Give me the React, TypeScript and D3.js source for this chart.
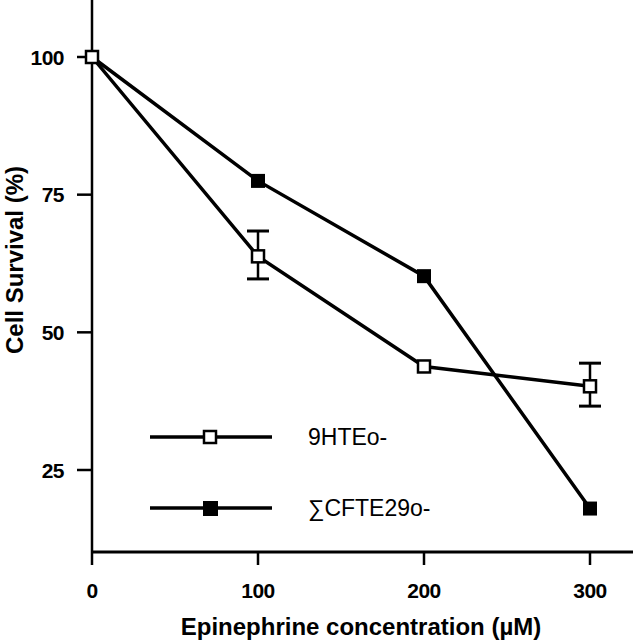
import * as d3 from 'd3'
import { useEffect, useRef } from 'react'

const doses = [0, 100, 200, 300]
const htValues = [100, 63.8, 43.8, 40.2]
const htErrLow = [null, 59.7, null, 36.6]
const htErrHigh = [null, 68.4, null, 44.4]
const cfValues = [100, 77.5, 60.2, 18]
const xTicks = [0, 100, 200, 300]
const yTicks = [25, 50, 75, 100]
const legendNames = ['9HTEo-', '\u2211CFTE29o-']

export default function App() {
  const svgRef = useRef<SVGSVGElement>(null)

  useEffect(() => {
    const svg = d3.select(svgRef.current)
    svg.selectAll('*').remove()
    const width = 633
    const height = 640
    const left = 92
    const bottom = 552

    const x = d3.scaleLinear().domain([0, 300]).range([left, 590])
    const y = d3.scaleLinear().domain([25, 100]).range([470, 57])
    const font = 'Liberation Sans, Arial, Helvetica, sans-serif'

    svg.append('rect').attr('width', width).attr('height', height).attr('fill', 'white')

    // axes lines
    svg.append('line').attr('x1', left).attr('x2', left).attr('y1', 0).attr('y2', bottom)
      .attr('stroke', 'black').attr('stroke-width', 2.5)
    svg.append('line').attr('x1', left - 1).attr('x2', width).attr('y1', bottom).attr('y2', bottom)
      .attr('stroke', 'black').attr('stroke-width', 3)

    // y ticks
    yTicks.forEach((t) => {
      svg.append('line').attr('x1', left - 15).attr('x2', left).attr('y1', y(t)).attr('y2', y(t))
        .attr('stroke', 'black').attr('stroke-width', 2.5)
      svg.append('text').attr('x', left - 28).attr('y', y(t)).attr('dy', '0.36em')
        .attr('text-anchor', 'end').attr('font-family', font).attr('font-weight', 'bold')
        .attr('font-size', 21).attr('letter-spacing', -0.5).text(t)
    })

    // x ticks
    xTicks.forEach((t) => {
      svg.append('line').attr('x1', x(t)).attr('x2', x(t)).attr('y1', bottom).attr('y2', bottom + 13)
        .attr('stroke', 'black').attr('stroke-width', 2.5)
      svg.append('text').attr('x', x(t)).attr('y', 598)
        .attr('text-anchor', 'middle').attr('font-family', font).attr('font-weight', 'bold')
        .attr('font-size', 21).attr('letter-spacing', -0.5).text(t)
    })

    svg.append('text').attr('x', 361).attr('y', 635)
      .attr('text-anchor', 'middle').attr('font-family', font).attr('font-weight', 'bold')
      .attr('font-size', 24).text('Epinephrine concentration (\u00b5M)')

    svg.append('text').attr('transform', 'translate(23,260) rotate(-90)')
      .attr('text-anchor', 'middle').attr('font-family', font).attr('font-weight', 'bold')
      .attr('font-size', 24).text('Cell Survival (%)')

    const line = d3.line<number>().x((d, i) => x(doses[i])).y((d) => y(d))

    svg.append('path').datum(cfValues).attr('d', line).attr('fill', 'none')
      .attr('stroke', 'black').attr('stroke-width', 3.5)
    svg.append('path').datum(htValues).attr('d', line).attr('fill', 'none')
      .attr('stroke', 'black').attr('stroke-width', 3.5)

    // error bars
    doses.forEach((dose, i) => {
      const lo = htErrLow[i]
      const hi = htErrHigh[i]
      if (lo == null || hi == null) return
      const cx = x(dose)
      svg.append('line').attr('x1', cx).attr('x2', cx).attr('y1', y(hi)).attr('y2', y(lo))
        .attr('stroke', 'black').attr('stroke-width', 2.5)
      ;[lo, hi].forEach((v) => {
        svg.append('line').attr('x1', cx - 11).attr('x2', cx + 11).attr('y1', y(v)).attr('y2', y(v))
          .attr('stroke', 'black').attr('stroke-width', 3)
      })
    })

    // markers
    cfValues.forEach((v, i) => {
      if (i === 0) return
      svg.append('rect').attr('x', x(doses[i]) - 7).attr('y', y(v) - 7)
        .attr('width', 14).attr('height', 14).attr('fill', 'black')
    })
    htValues.forEach((v, i) => {
      svg.append('rect').attr('x', x(doses[i]) - 6).attr('y', y(v) - 6)
        .attr('width', 12).attr('height', 12).attr('fill', 'white')
        .attr('stroke', 'black').attr('stroke-width', 2.5)
    })

    // legend
    const legendY = [437, 508]
    legendNames.forEach((name, i) => {
      const ly = legendY[i]
      svg.append('line').attr('x1', 150).attr('x2', 272).attr('y1', ly).attr('y2', ly)
        .attr('stroke', 'black').attr('stroke-width', 3.5)
      if (i === 0) {
        svg.append('rect').attr('x', 204).attr('y', ly - 6).attr('width', 12).attr('height', 12)
          .attr('fill', 'white').attr('stroke', 'black').attr('stroke-width', 2.5)
      } else {
        svg.append('rect').attr('x', 203).attr('y', ly - 7).attr('width', 15).attr('height', 15)
          .attr('fill', 'black')
      }
      svg.append('text').attr('x', 308).attr('y', ly).attr('dy', '0.36em')
        .attr('font-family', font).attr('font-size', 23).text(name)
    })
  }, [])

  return (
    <svg ref={svgRef} width={633} height={640}
      style={{ position: 'absolute', left: 0, top: 0, display: 'block' }} />
  )
}
